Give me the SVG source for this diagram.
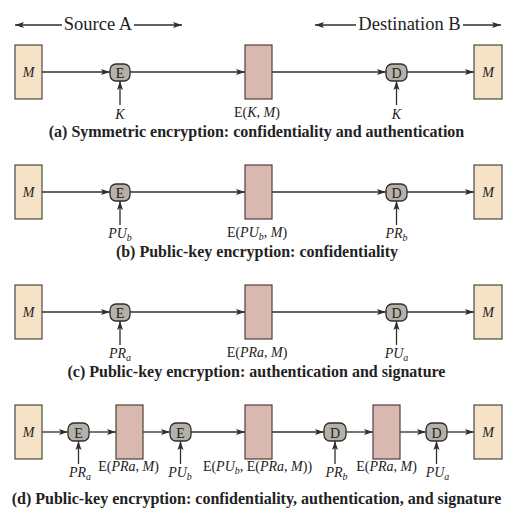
<svg xmlns="http://www.w3.org/2000/svg" width="519" height="512" viewBox="0 0 519 512">
<style>
.msg{fill:#F6E2C6;stroke:#4d4640;stroke-width:1.2}
.ct{fill:#D9B9AF;stroke:#4d403c;stroke-width:1.2}
.op{fill:#B5B1A8;stroke:#2e2e2e;stroke-width:1.3}
.ln{stroke:#2e2e2e;stroke-width:1.3;fill:none}
.lab{font-family:"Liberation Serif",serif;font-size:14px;text-anchor:middle;fill:#222}
.cap{font-family:"Liberation Serif",serif;font-size:16px;font-weight:bold;text-anchor:middle;fill:#222}
.hdr{font-family:"Liberation Serif",serif;font-size:18.5px;text-anchor:middle;fill:#222}
.i{font-style:italic}
.sb{font-style:italic;font-size:10px}
</style>
<defs>
<marker id="ah" markerUnits="userSpaceOnUse" markerWidth="9" markerHeight="7" refX="9" refY="3.5" orient="auto">
<path d="M0,0.5 L9,3.5 L0,6.5 L2,3.5 z" fill="#2e2e2e"/>
</marker>
</defs>

<g id="headers">
<text class="hdr" x="98" y="30">Source A</text>
<text class="hdr" x="409.5" y="30">Destination B</text>
</g>

<g id="connectors">
<line class="ln" x1="62" y1="25" x2="15" y2="25" marker-end="url(#ah)"/>
<line class="ln" x1="134" y1="25" x2="182" y2="25" marker-end="url(#ah)"/>
<line class="ln" x1="356" y1="25" x2="315" y2="25" marker-end="url(#ah)"/>
<line class="ln" x1="463" y1="25" x2="501" y2="25" marker-end="url(#ah)"/>
<g id="conn-a">
<line class="ln" x1="42" y1="72" x2="110" y2="72" marker-end="url(#ah)"/>
<line class="ln" x1="130" y1="72" x2="245" y2="72" marker-end="url(#ah)"/>
<line class="ln" x1="272" y1="72" x2="386" y2="72" marker-end="url(#ah)"/>
<line class="ln" x1="407" y1="72" x2="474" y2="72" marker-end="url(#ah)"/>
<line class="ln" x1="120" y1="105" x2="120" y2="81" marker-end="url(#ah)"/>
<line class="ln" x1="396.5" y1="105" x2="396.5" y2="81" marker-end="url(#ah)"/>
</g>
<g id="conn-b">
<line class="ln" x1="42" y1="192" x2="110" y2="192" marker-end="url(#ah)"/>
<line class="ln" x1="130" y1="192" x2="245" y2="192" marker-end="url(#ah)"/>
<line class="ln" x1="272" y1="192" x2="386" y2="192" marker-end="url(#ah)"/>
<line class="ln" x1="407" y1="192" x2="474" y2="192" marker-end="url(#ah)"/>
<line class="ln" x1="120" y1="225" x2="120" y2="201" marker-end="url(#ah)"/>
<line class="ln" x1="396.5" y1="225" x2="396.5" y2="201" marker-end="url(#ah)"/>
</g>
<g id="conn-c">
<line class="ln" x1="42" y1="312" x2="110" y2="312" marker-end="url(#ah)"/>
<line class="ln" x1="130" y1="312" x2="245" y2="312" marker-end="url(#ah)"/>
<line class="ln" x1="272" y1="312" x2="386" y2="312" marker-end="url(#ah)"/>
<line class="ln" x1="407" y1="312" x2="474" y2="312" marker-end="url(#ah)"/>
<line class="ln" x1="120" y1="345" x2="120" y2="321" marker-end="url(#ah)"/>
<line class="ln" x1="396.5" y1="345" x2="396.5" y2="321" marker-end="url(#ah)"/>
</g>
<g id="conn-d">
<line class="ln" x1="42" y1="432" x2="68" y2="432" marker-end="url(#ah)"/>
<line class="ln" x1="89" y1="432" x2="116" y2="432" marker-end="url(#ah)"/>
<line class="ln" x1="143" y1="432" x2="170" y2="432" marker-end="url(#ah)"/>
<line class="ln" x1="191" y1="432" x2="245" y2="432" marker-end="url(#ah)"/>
<line class="ln" x1="272" y1="432" x2="324" y2="432" marker-end="url(#ah)"/>
<line class="ln" x1="346" y1="432" x2="373" y2="432" marker-end="url(#ah)"/>
<line class="ln" x1="400" y1="432" x2="426" y2="432" marker-end="url(#ah)"/>
<line class="ln" x1="447" y1="432" x2="474" y2="432" marker-end="url(#ah)"/>
<line class="ln" x1="78.5" y1="464" x2="78.5" y2="441" marker-end="url(#ah)"/>
<line class="ln" x1="180.5" y1="464" x2="180.5" y2="441" marker-end="url(#ah)"/>
<line class="ln" x1="335" y1="464" x2="335" y2="441" marker-end="url(#ah)"/>
<line class="ln" x1="436.5" y1="464" x2="436.5" y2="441" marker-end="url(#ah)"/>
</g>
</g>

<g id="a-M1"><rect class="msg" x="15" y="45" width="27" height="54"/><text class="lab i" x="28.5" y="77">M</text></g>
<g id="a-E"><rect class="op" x="110" y="64" width="20" height="17" rx="6"/><text class="lab" x="120" y="77.5">E</text></g>
<g id="a-C"><rect class="ct" x="245" y="45" width="27" height="54"/></g>
<g id="a-D"><rect class="op" x="386" y="64" width="21" height="17" rx="6"/><text class="lab" x="396.5" y="77.5">D</text></g>
<g id="a-M2"><rect class="msg" x="474" y="45" width="28" height="54"/><text class="lab i" x="488" y="77">M</text></g>
<g id="a-labels">
<text class="lab i" x="120" y="119">K</text>
<text class="lab" x="257" y="117">E(<tspan class="i">K</tspan>, <tspan class="i">M</tspan>)</text>
<text class="lab i" x="396.5" y="119">K</text>
<text class="cap" x="256.5" y="137">(a) Symmetric encryption: confidentiality and authentication</text>
</g>

<g id="b-M1"><rect class="msg" x="15" y="165" width="27" height="54"/><text class="lab i" x="28.5" y="197">M</text></g>
<g id="b-E"><rect class="op" x="110" y="184" width="20" height="17" rx="6"/><text class="lab" x="120" y="197.5">E</text></g>
<g id="b-C"><rect class="ct" x="245" y="165" width="27" height="54"/></g>
<g id="b-D"><rect class="op" x="386" y="184" width="21" height="17" rx="6"/><text class="lab" x="396.5" y="197.5">D</text></g>
<g id="b-M2"><rect class="msg" x="474" y="165" width="28" height="54"/><text class="lab i" x="488" y="197">M</text></g>
<g id="b-labels">
<text class="lab" x="120" y="238"><tspan class="i">PU</tspan><tspan class="sb" dy="3">b</tspan></text>
<text class="lab" x="257" y="237">E(<tspan class="i">PU</tspan><tspan class="sb" dy="3">b</tspan><tspan dy="-3">, </tspan><tspan class="i">M</tspan>)</text>
<text class="lab" x="396.5" y="238"><tspan class="i">PR</tspan><tspan class="sb" dy="3">b</tspan></text>
<text class="cap" x="257" y="257">(b) Public-key encryption: confidentiality</text>
</g>

<g id="c-M1"><rect class="msg" x="15" y="285" width="27" height="54"/><text class="lab i" x="28.5" y="317">M</text></g>
<g id="c-E"><rect class="op" x="110" y="304" width="20" height="17" rx="6"/><text class="lab" x="120" y="317.5">E</text></g>
<g id="c-C"><rect class="ct" x="245" y="285" width="27" height="54"/></g>
<g id="c-D"><rect class="op" x="386" y="304" width="21" height="17" rx="6"/><text class="lab" x="396.5" y="317.5">D</text></g>
<g id="c-M2"><rect class="msg" x="474" y="285" width="28" height="54"/><text class="lab i" x="488" y="317">M</text></g>
<g id="c-labels">
<text class="lab" x="120" y="358"><tspan class="i">PR</tspan><tspan class="sb" dy="3">a</tspan></text>
<text class="lab" x="257" y="357">E(<tspan class="i">PRa</tspan>, <tspan class="i">M</tspan>)</text>
<text class="lab" x="396.5" y="358"><tspan class="i">PU</tspan><tspan class="sb" dy="3">a</tspan></text>
<text class="cap" x="256.5" y="377">(c) Public-key encryption: authentication and signature</text>
</g>

<g id="d-M1"><rect class="msg" x="15" y="405" width="27" height="54"/><text class="lab i" x="28.5" y="437">M</text></g>
<g id="d-E1"><rect class="op" x="68" y="423" width="21" height="18" rx="6"/><text class="lab" x="78.5" y="437.5">E</text></g>
<g id="d-C1"><rect class="ct" x="116" y="405" width="27" height="54"/></g>
<g id="d-E2"><rect class="op" x="170" y="423" width="21" height="18" rx="6"/><text class="lab" x="180.5" y="437.5">E</text></g>
<g id="d-C2"><rect class="ct" x="245" y="405" width="27" height="54"/></g>
<g id="d-D1"><rect class="op" x="324" y="423" width="22" height="18" rx="6"/><text class="lab" x="335" y="437.5">D</text></g>
<g id="d-C3"><rect class="ct" x="373" y="405" width="27" height="54"/></g>
<g id="d-D2"><rect class="op" x="426" y="423" width="21" height="18" rx="6"/><text class="lab" x="436.5" y="437.5">D</text></g>
<g id="d-M2"><rect class="msg" x="474" y="405" width="28" height="54"/><text class="lab i" x="488" y="437">M</text></g>
<g id="d-labels">
<text class="lab" x="80" y="477"><tspan class="i">PR</tspan><tspan class="sb" dy="3">a</tspan></text>
<text class="lab" x="128.5" y="471">E(<tspan class="i">PRa</tspan>, <tspan class="i">M</tspan>)</text>
<text class="lab" x="180" y="477"><tspan class="i">PU</tspan><tspan class="sb" dy="3">b</tspan></text>
<text class="lab" x="257.5" y="471">E(<tspan class="i">PU</tspan><tspan class="sb" dy="3">b</tspan><tspan dy="-3">, E(</tspan><tspan class="i">PRa</tspan>, <tspan class="i">M</tspan>))</text>
<text class="lab" x="336.5" y="477"><tspan class="i">PR</tspan><tspan class="sb" dy="3">b</tspan></text>
<text class="lab" x="386.5" y="471">E(<tspan class="i">PRa</tspan>, <tspan class="i">M</tspan>)</text>
<text class="lab" x="437.5" y="477"><tspan class="i">PU</tspan><tspan class="sb" dy="3">a</tspan></text>
<text class="cap" x="256.5" y="504">(d) Public-key encryption: confidentiality, authentication, and signature</text>
</g>
</svg>
